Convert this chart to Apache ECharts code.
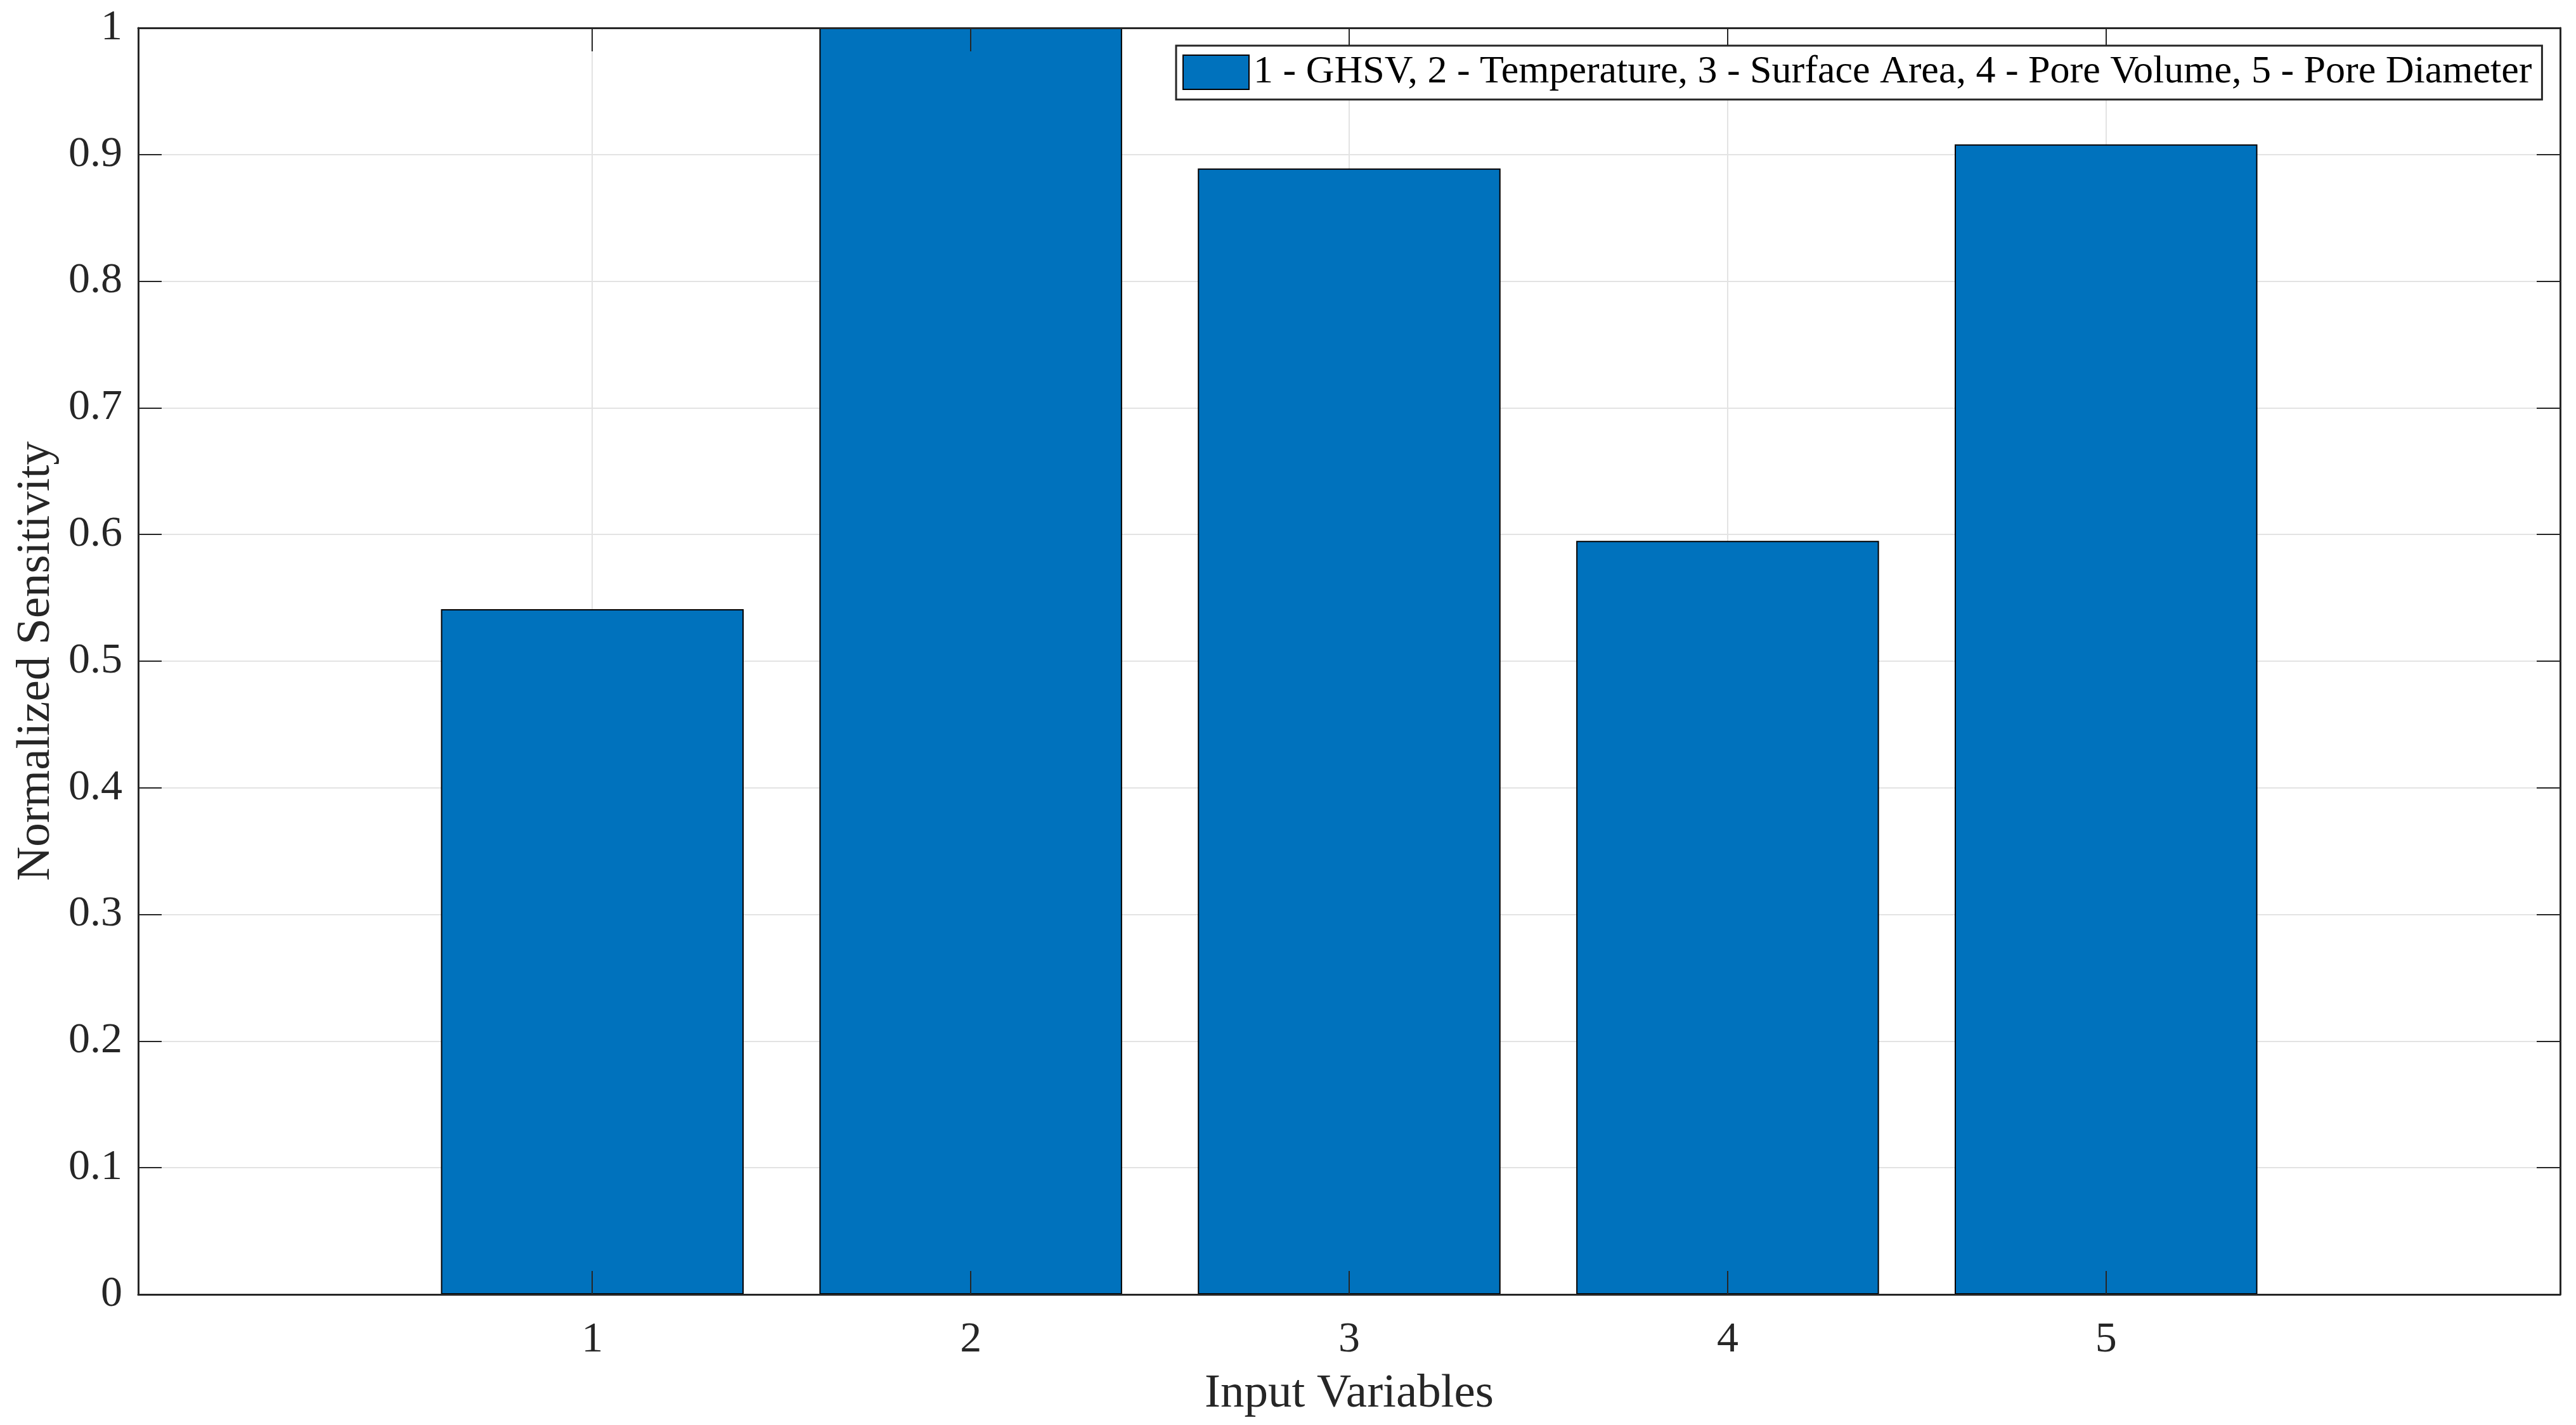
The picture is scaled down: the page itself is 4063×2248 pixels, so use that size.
<!DOCTYPE html>
<html>
<head>
<meta charset="utf-8">
<script src="https://cdn.jsdelivr.net/npm/echarts@6/dist/echarts.min.js"></script>
<style>
  html, body { margin: 0; padding: 0; background: #fff; }
  #main { width: 4063px; height: 2248px; }
</style>
</head>
<body>
<div id="main"></div>
<script>
// input variable index and normalized sensitivity
var positions = [1, 2, 3, 4, 5];
var sensitivity = [0.541, 1.0, 0.889, 0.595, 0.908];
var xTicks = [1, 2, 3, 4, 5];
var legendText = '1 - GHSV, 2 - Temperature, 3 - Surface Area, 4 - Pore Volume, 5 - Pore Diameter';

var font = 'Liberation Serif';
var ink = '#262626';

var chart = echarts.init(document.getElementById('main'));

var barData = positions.map(function (p, i) { return [p, sensitivity[i]]; });

// same rect twice: grid 0 holds the bars and the box/ticks (drawn on top),
// grid 1 only draws the light grid lines behind the bars
var rect = { left: 218, right: 25, top: 44, bottom: 206, containLabel: false };

var boxLine = { show: true, onZero: false, lineStyle: { color: ink, width: 3 } };
var tick = { show: true, inside: true, length: 37, lineStyle: { color: ink, width: 2 } };
var gridLine = { show: true, lineStyle: { color: '#e3e3e3', width: 2 } };
var hidden = { show: false };

var option = {
    backgroundColor: '#ffffff',
    animation: false,
    textStyle: { fontFamily: font, color: ink },
    grid: [rect, Object.assign({}, rect)],
    legend: {
        data: [legendText],
        left: 1855,
        top: 72,
        z: 10,
        padding: [11, 16, 12, 10],
        backgroundColor: '#ffffff',
        borderColor: ink,
        borderWidth: 3,
        itemWidth: 104,
        itemHeight: 54,
        icon: 'rect',
        itemStyle: { color: '#0072BD', borderColor: '#000', borderWidth: 2 },
        textStyle: { fontFamily: font, fontSize: 62, color: '#000', padding: [0, 0, 0, 2] }
    },
    xAxis: [{
        gridIndex: 0,
        type: 'value',
        min: -0.2,
        max: 6.2,
        z: 5,
        name: 'Input Variables',
        nameLocation: 'middle',
        nameGap: 120,
        nameTextStyle: { fontFamily: font, fontSize: 75, color: ink },
        axisLine: boxLine,
        axisTick: Object.assign({ customValues: xTicks }, tick),
        axisLabel: { customValues: xTicks, fontFamily: font, fontSize: 68, color: ink, margin: 38 },
        splitLine: hidden
    }, {
        gridIndex: 0,
        type: 'value',
        position: 'top',
        min: -0.2,
        max: 6.2,
        z: 5,
        axisLine: boxLine,
        axisTick: Object.assign({ customValues: xTicks }, tick),
        axisLabel: hidden,
        splitLine: hidden
    }, {
        gridIndex: 1,
        type: 'value',
        min: -0.2,
        max: 6.2,
        z: 0,
        axisLine: hidden,
        axisTick: { show: false, customValues: xTicks },
        axisLabel: { show: false, customValues: xTicks },
        splitLine: gridLine
    }],
    yAxis: [{
        gridIndex: 0,
        type: 'value',
        min: 0,
        max: 1,
        interval: 0.1,
        z: 5,
        name: 'Normalized Sensitivity',
        nameLocation: 'middle',
        nameGap: 123,
        nameTextStyle: { fontFamily: font, fontSize: 75, color: ink },
        axisLine: boxLine,
        axisTick: tick,
        axisLabel: { fontFamily: font, fontSize: 68, color: ink, margin: 25 },
        splitLine: hidden
    }, {
        gridIndex: 0,
        type: 'value',
        position: 'right',
        min: 0,
        max: 1,
        interval: 0.1,
        z: 5,
        axisLine: boxLine,
        axisTick: tick,
        axisLabel: hidden,
        splitLine: hidden
    }, {
        gridIndex: 1,
        type: 'value',
        min: 0,
        max: 1,
        interval: 0.1,
        z: 0,
        axisLine: hidden,
        axisTick: hidden,
        axisLabel: hidden,
        splitLine: gridLine
    }],
    series: [{
        name: legendText,
        type: 'bar',
        xAxisIndex: 0,
        yAxisIndex: 0,
        barWidth: '80%',
        data: barData,
        itemStyle: { color: '#0072BD', borderColor: '#000', borderWidth: 2 },
        z: 2
    }]
};

chart.setOption(option);
</script>
</body>
</html>
